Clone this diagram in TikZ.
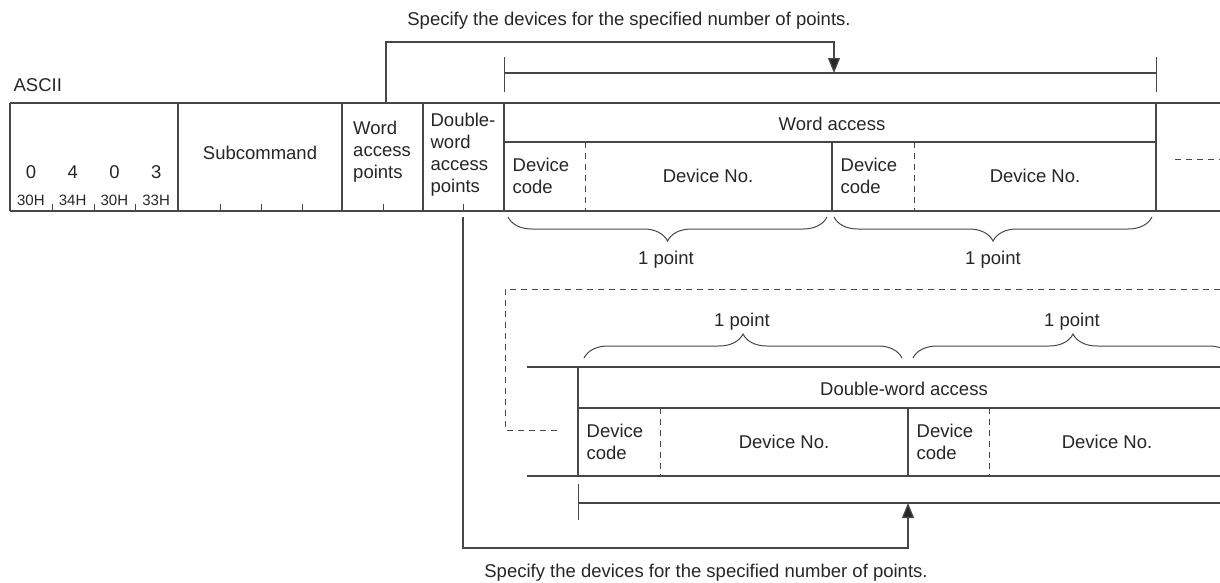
\documentclass[tikz,border=0pt]{standalone}
\usepackage{fontspec}
\setmainfont{Liberation Sans}
\usetikzlibrary{arrows.meta,decorations.pathreplacing}

\tikzset{
  lbl/.style={font=\fontsize{18.5}{22}\selectfont, text=black!85, inner sep=0pt, align=left},
  hexlbl/.style={font=\fontsize{15}{17}\selectfont, text=black!85, inner sep=0pt},
  dashline/.style={line width=1pt, dash pattern=on 6pt off 5pt},
  tick/.style={line width=1pt},
  brc/.style={line width=1pt, decorate, decoration={brace, amplitude=24pt}},
  tip/.style={-{Triangle[length=15pt,width=12pt,fill=black!85]}}
}

\begin{document}
\begin{tikzpicture}[x=1pt,y=-1pt,line width=1.3pt,color=black!72]
   \useasboundingbox (0,0) rectangle (1220,582);
   \clip (0,0) rectangle (1220,582);

   \node[lbl] (topnote) at (629,21) {Specify the devices for the specified number of points.};
   \node[lbl] (botnote) at (706,573) {Specify the devices for the specified number of points.};
   \node[lbl,anchor=west] (ascii) at (13,85) {ASCII};

   % request data, word access part
   \draw (10,103) -- (1220,103);
   \draw (10,211) -- (1220,211);
   \foreach \x in {10,178,342,423,504,1156}
      \draw (\x,103) -- (\x,211);
   \draw (504,142) -- (1156,142);
   \draw (832,142) -- (832,211);
   \draw[dashline] (585,142) -- (585,211);
   \draw[dashline] (914,142) -- (914,211);
   \draw[dashline] (1175,159) -- (1220,159);
   \foreach \x in {52,94,135,220,261,302,383,463}
      \draw[tick] (\x,204) -- (\x,211);

   \foreach \c [count=\i from 0] in {0,4,0,3}
      \node[lbl] (digit\i) at (10+41.75*\i+20.9,172) {\c};
   \foreach \h [count=\i from 0] in {30H,34H,30H,33H}
      \node[hexlbl] (hex\i) at (10+41.75*\i+20.9,200) {\h};
   \node[lbl] (subcmd) at (260,153) {Subcommand};
   \node[lbl] (wordpts) at (382,152) {Word\\access\\points};
   \node[lbl] (dwordpts) at (463,155) {Double-\\word\\access\\points};
   \node[lbl] (wordhdr) at (832,124) {Word access};
   \node[lbl,anchor=west] (wcode1) at (512,176) {Device\\code};
   \node[lbl] (wno1) at (708,176) {Device No.};
   \node[lbl,anchor=west] (wcode2) at (840,176) {Device\\code};
   \node[lbl] (wno2) at (1035,176) {Device No.};

   \draw[brc,decoration={mirror}] (508,217) -- (827,217);
   \draw[brc,decoration={mirror}] (834,217) -- (1152,217);
   \node[lbl] (wpt1) at (666,260) {1 point};
   \node[lbl] (wpt2) at (993,260) {1 point};

   % range bracket above the word access part
   \draw[tick] (504,57) -- (504,92);
   \draw[tick] (1156,57) -- (1156,92);
   \draw (504,73) -- (1156,73);
   \coordinate (wstart) at (386,103);
   \coordinate (wend) at (834,73);
   \draw[tip] (wstart) -- (386,42) -| (wend);

   % double-word access part
   \draw[dashline] (1220,289) -- (505,289) -- (505,430) -- (559,430);
   \node[lbl] (dpt1) at (742,322) {1 point};
   \node[lbl] (dpt2) at (1072,322) {1 point};
   \draw[brc] (584,358) -- (902,358);
   \draw[brc] (913,358) -- (1233,358);

   \draw (527,367) -- (1220,367);
   \draw (527,476) -- (1220,476);
   \draw (578,367) -- (578,476);
   \draw (578,408) -- (1220,408);
   \draw (908,408) -- (908,476);
   \draw[dashline] (660,408) -- (660,476);
   \draw[dashline] (989,408) -- (989,476);
   \node[lbl] (dhdr) at (904,389) {Double-word access};
   \node[lbl,anchor=west] (dcode1) at (586,442) {Device\\code};
   \node[lbl] (dno1) at (784,442) {Device No.};
   \node[lbl,anchor=west] (dcode2) at (916,442) {Device\\code};
   \node[lbl] (dno2) at (1107,442) {Device No.};

   % range bracket below the double-word access part
   \draw[tick] (578,484) -- (578,520);
   \draw (578,503) -- (1220,503);
   \coordinate (dstart) at (463,217);
   \coordinate (dend) at (908,503);
   \draw[tip] (dstart) -- (463,548) -| (dend);
\end{tikzpicture}
\end{document}
